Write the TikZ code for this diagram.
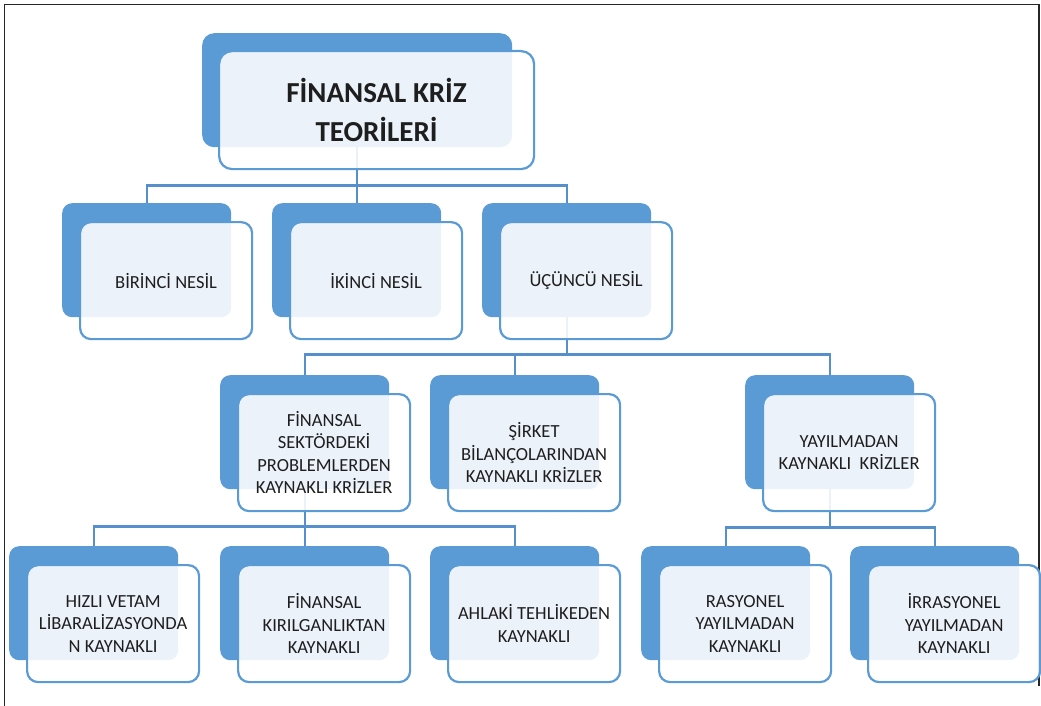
\documentclass[tikz,border=0pt]{standalone}
\usepackage{fontspec}
\setmainfont{Carlito}
\pgfdeclarelayer{bg}
\pgfsetlayers{bg,main}
\definecolor{bk}{HTML}{5B9BD5}
\definecolor{ln}{HTML}{5590CD}
\definecolor{tx}{HTML}{1E1E1E}
\tikzset{
  backbox/.style={fill=bk, rounded corners=10pt, anchor=north west, inner sep=0pt,
    minimum width=169pt, minimum height=114pt},
  frontbox/.style={draw=bk, line width=2.2pt, fill=white, fill opacity=0.88, text opacity=1,
    rounded corners=11pt, anchor=north west, inner sep=0pt,
    minimum width=172pt, minimum height=117pt, align=center, text=tx,
    font=\fontsize{18.5}{22.5}\selectfont},
  conn/.style={draw=ln, line width=2.4pt}
}
\newcommand\chartbox[4]{%
  \node[backbox] (#1) at (#2,#3) {};
  \node[frontbox] (#1f) at (#2+17,#3+18) {#4};
}
\begin{document}
\begin{tikzpicture}[x=1pt,y=-1pt]
\useasboundingbox (0,0) rectangle (1041,706);
\draw[line width=1.8pt, black!85] (4.5,706) -- (4.5,4.5) -- (1039,4.5) -- (1039,686);

% title
\node[backbox, minimum width=310pt, minimum height=114pt, rounded corners=12pt] (t) at (202,33) {};
\node[frontbox, minimum width=315pt, minimum height=118pt, rounded corners=13pt,
  font=\fontsize{29}{39}\selectfont\bfseries] (tf) at (218,50) {FİNANSAL KRİZ\\TEORİLERİ};

% level 2
\chartbox{b1}{62}{203}{BİRİNCİ NESİL}
\chartbox{b2}{272}{203}{İKİNCİ NESİL}
\chartbox{b3}{482}{203}{ÜÇÜNCÜ NESİL}

% level 3
\chartbox{c1}{220}{375}{FİNANSAL\\SEKTÖRDEKİ\\PROBLEMLERDEN\\KAYNAKLI KRİZLER}
\chartbox{c2}{430}{375}{ŞİRKET\\BİLANÇOLARINDAN\\KAYNAKLI KRİZLER}
\chartbox{c3}{745}{375}{YAYILMADAN\\KAYNAKLI\ \ KRİZLER}

% level 4
\chartbox{d1}{9}{546}{HIZLI VETAM\\LİBARALİZASYONDA\\N KAYNAKLI}
\chartbox{d2}{220}{546}{FİNANSAL\\KIRILGANLIKTAN\\KAYNAKLI}
\chartbox{d3}{430}{546}{AHLAKİ TEHLİKEDEN\\KAYNAKLI}
\chartbox{d4}{641}{546}{RASYONEL\\YAYILMADAN\\KAYNAKLI}
\chartbox{d5}{850}{546}{İRRASYONEL\\YAYILMADAN\\KAYNAKLI}

\begin{pgfonlayer}{bg}
\fill[white] (0,0) rectangle (1041,706);
\foreach \c in {b1,b2,b3} \draw[conn] (t.south) -- ++(0,38) -| (\c.north);
\foreach \c in {c1,c2,c3} \draw[conn] (b3.south) -- ++(0,37) -| (\c.north);
\foreach \c in {d1,d2,d3} \draw[conn] (c1.south) -- ++(0,37) -| (\c.north);
\foreach \c in {d4,d5} \draw[conn] (c3.south) -- ++(0,38) -| (\c.north);
\end{pgfonlayer}
\end{tikzpicture}
\end{document}
